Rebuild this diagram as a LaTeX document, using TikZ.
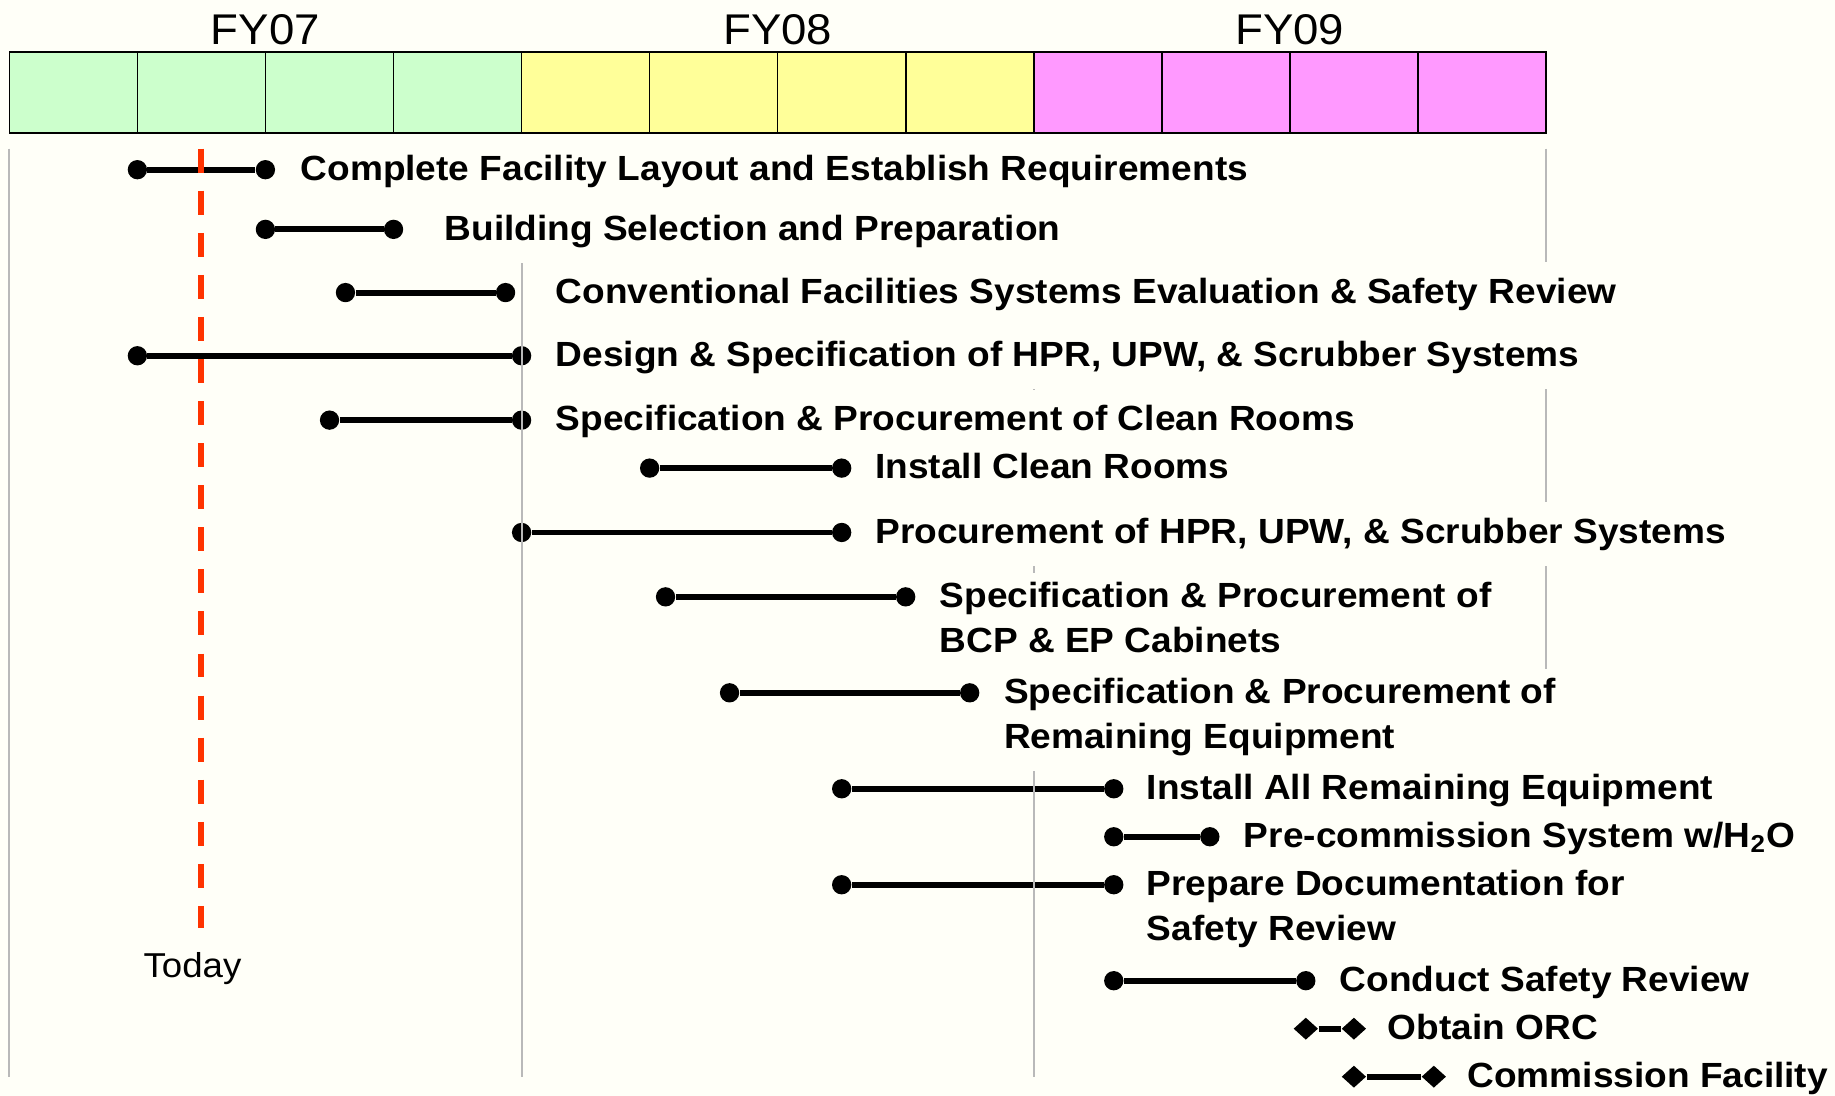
\documentclass[tikz,border=0pt]{standalone}
\usepackage{fontspec}
\setmainfont{Liberation Sans}[FakeStretch=1.06]
\usepackage{xcolor}
\usetikzlibrary{shapes.geometric}
\definecolor{paper}{RGB}{255,255,248}
\definecolor{fygreen}{RGB}{204,255,204}
\definecolor{fyyellow}{RGB}{255,255,153}
\definecolor{fypink}{RGB}{255,153,255}
\definecolor{todayred}{RGB}{255,51,0}
\definecolor{linegray}{RGB}{185,185,185}
\tikzstyle{taskbar} = [line width=2.9pt]
\tikzstyle{enddot} = [circle,fill,inner sep=0pt,minimum size=0.33cm]
\tikzstyle{enddia} = [diamond,fill,inner sep=0pt,minimum width=0.42cm,minimum height=0.38cm]
\tikzstyle{yearline} = [linegray,line width=0.95pt]
\tikzstyle{task} = [anchor=base west,xshift=-2.8pt,yshift=-5.2pt,fill=paper,inner xsep=2pt,inner ysep=4.5pt,align=left,font=\bfseries\fontsize{17}{21.9}\selectfont,execute at begin node=\strut]
\tikzstyle{task2} = [task,yshift=-21.9pt]
\tikzstyle{fylabel} = [anchor=base,inner sep=0pt,font=\fontsize{20.9}{25}\selectfont]

\begin{document}
\begin{tikzpicture}[x=0.2mm,y=-0.2mm]
    \fill[paper] (0,0) rectangle (1568,936.5);
    \useasboundingbox (0,0) rectangle (1568,936.5);

    % fiscal years
    \draw [line width=0.8pt,fill=fygreen] (8,44.2) rectangle (445.7,113.4);
    \draw [line width=0.8pt,fill=fyyellow] (445.7,44.2) rectangle (883.3,113.4);
    \draw [line width=0.8pt,fill=fypink] (883.3,44.2) rectangle (1321,113.4);
    \draw [line width=0.8pt] (117.4,44.2) -- (117.4,113.4) (226.8,44.2) -- (226.8,113.4)
        (336.3,44.2) -- (336.3,113.4) (555.1,44.2) -- (555.1,113.4)
        (664.5,44.2) -- (664.5,113.4) (773.9,44.2) -- (773.9,113.4)
        (992.7,44.2) -- (992.7,113.4) (1102.1,44.2) -- (1102.1,113.4)
        (1211.6,44.2) -- (1211.6,113.4);
    \node[fylabel] (fy07) at (226.8,37.9) {FY07};
    \node[fylabel] (fy08) at (664.5,37.9) {FY08};
    \node[fylabel] (fy09) at (1102.1,37.9) {FY09};

    % tasks
    \node[enddot] (s1) at (117.4,145) {};
    \node[enddot] (e1) at (226.8,145) {};
    \draw [taskbar] (s1) -- (e1);
    \node[enddot] (s2) at (226.8,196) {};
    \node[enddot] (e2) at (336.3,196) {};
    \draw [taskbar] (s2) -- (e2);
    \node[enddot] (s3) at (295.2,250) {};
    \node[enddot] (e3) at (432,250) {};
    \draw [taskbar] (s3) -- (e3);
    \node[enddot] (s4) at (117.4,304) {};
    \node[enddot] (e4) at (445.7,304) {};
    \draw [taskbar] (s4) -- (e4);
    \node[enddot] (s5) at (281.6,359) {};
    \node[enddot] (e5) at (445.7,359) {};
    \draw [taskbar] (s5) -- (e5);
    \node[enddot] (s6) at (555.1,400) {};
    \node[enddot] (e6) at (719.2,400) {};
    \draw [taskbar] (s6) -- (e6);
    \node[enddot] (s7) at (445.7,455) {};
    \node[enddot] (e7) at (719.2,455) {};
    \draw [taskbar] (s7) -- (e7);
    \node[enddot] (s8) at (568.7,510) {};
    \node[enddot] (e8) at (773.9,510) {};
    \draw [taskbar] (s8) -- (e8);
    \node[enddot] (s9) at (623.4,592) {};
    \node[enddot] (e9) at (828.6,592) {};
    \draw [taskbar] (s9) -- (e9);
    \node[enddot] (s10) at (719.2,674) {};
    \node[enddot] (e10) at (951.7,674) {};
    \draw [taskbar] (s10) -- (e10);
    \node[enddot] (s11) at (951.7,715) {};
    \node[enddot] (e11) at (1033.8,715) {};
    \draw [taskbar] (s11) -- (e11);
    \node[enddot] (s12) at (719.2,756) {};
    \node[enddot] (e12) at (951.7,756) {};
    \draw [taskbar] (s12) -- (e12);
    \node[enddot] (s13) at (951.7,838) {};
    \node[enddot] (e13) at (1115.8,838) {};
    \draw [taskbar] (s13) -- (e13);
    \node[enddia] (s14) at (1115.8,879) {};
    \node[enddia] (e14) at (1156.9,879) {};
    \draw [taskbar] (s14) -- (e14);
    \node[enddia] (s15) at (1156.9,920) {};
    \node[enddia] (e15) at (1225.2,920) {};
    \draw [taskbar] (s15) -- (e15);

    % year boundaries
    \draw [yearline] (8,127) -- (8,920);
    \draw [yearline] (445.7,127) -- (445.7,920);
    \draw [yearline] (883.3,127) -- (883.3,920);
    \draw [yearline] (1321,127) -- (1321,920);

    % today
    \coordinate (now) at (171.8,127);
    \coordinate (nowend) at (171.8,793);
    \draw [todayred,line width=0.096cm,dash pattern=on 0.41cm off 0.309cm] (now) -- (nowend);
    \node[anchor=base,inner sep=0pt,font=\fontsize{16.8}{20}\selectfont] (today) at (164.5,835.4) {Today};

    \node[task] (t1) at (258,145) {Complete Facility Layout and Establish Requirements};
    \node[task] (t2) at (381,196) {Building Selection and Preparation};
    \node[task] (t3) at (476,250) {Conventional Facilities Systems Evaluation \& Safety Review};
    \node[task] (t4) at (476,304) {Design \& Specification of HPR, UPW, \& Scrubber Systems};
    \node[task] (t5) at (476,359) {Specification \& Procurement of Clean Rooms};
    \node[task] (t6) at (749,400) {Install Clean Rooms};
    \node[task] (t7) at (749,455) {Procurement of HPR, UPW, \& Scrubber Systems};
    \node[task2] (t8) at (804,510) {Specification \& Procurement of\\BCP \& EP Cabinets};
    \node[task2] (t9) at (859,592) {Specification \& Procurement of\\Remaining Equipment};
    \node[task] (t10) at (981,674) {Install All Remaining Equipment};
    \node[task] (t11) at (1064,715) {Pre-commission System w/H\textsubscript{2}O};
    \node[task2] (t12) at (981,756) {Prepare Documentation for\\Safety Review};
    \node[task] (t13) at (1146,838) {Conduct Safety Review};
    \node[task] (t14) at (1187,879) {Obtain ORC};
    \node[task] (t15) at (1255,920) {Commission Facility};
\end{tikzpicture}
\end{document}
